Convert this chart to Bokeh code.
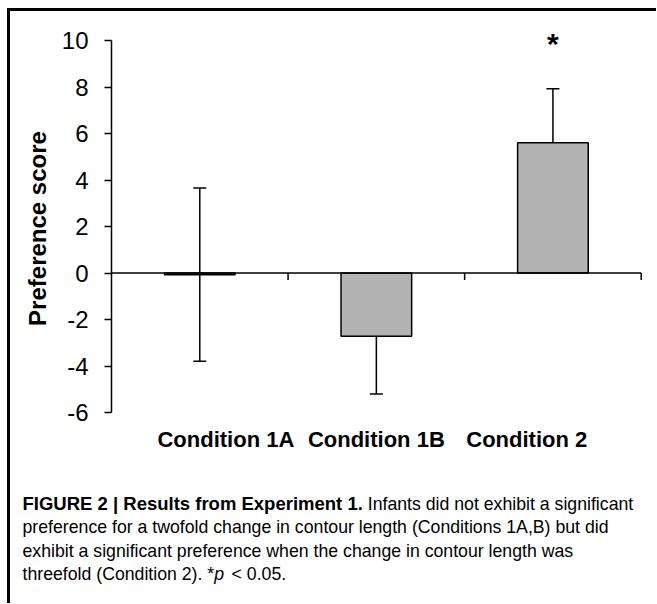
from bokeh.plotting import figure
from bokeh.layouts import column
from bokeh.models import (ColumnDataSource, Range1d, Label, Whisker, TeeHead, FixedTicker,
                          LinearAxis)
from bokeh.embed import file_html
from bokeh.resources import INLINE
import numpy as np

# ---- data ----
categories = ["Condition 1A", "Condition 1B", "Condition 2"]
means = [-0.07, -2.72, 5.6]
errors = [3.73, 2.48, 2.32]
y_ticks = [-6, -4, -2, 0, 2, 4, 6, 8, 10]
significance = ["", "", "*"]
y_label = "Preference score"
caption_bold = "FIGURE 2 | Results from Experiment 1."
caption_rest = ["Infants did not exhibit a significant",
                "preference for a twofold change in contour length (Conditions 1A,B) but did",
                "exhibit a significant preference when the change in contour length was",
                "threefold (Condition 2). *"]
caption_italic = "p"
caption_end = "< 0.05."

FONT = "Liberation Sans"

# ---- geometry (page pixels) ----
OX, OY = 10, 11             # content origin inside border
FL, AXT = 111, 40           # frame left / top of the y axis
FW = 535
PX_PER_UNIT = 23.25
TOP_PAD = 10                # room above the axis for the significance marker
BOTTOM_PAD = 14
FT = AXT - TOP_PAD
FH = int(round(PX_PER_UNIT * (y_ticks[-1] - y_ticks[0]))) + TOP_PAD + BOTTOM_PAD
CHART_H = (FT - OY) + FH + 44
TOTAL_W = 646
PAGE_BOTTOM = 603

n = len(categories)
xs = np.arange(n) + 0.5
upper = [m + e for m, e in zip(means, errors)]
lower = [m - e for m, e in zip(means, errors)]
src = ColumnDataSource(dict(x=xs, top=means, upper=upper, lower=lower))

x_end = n * 1.01
y_end = y_ticks[-1] + TOP_PAD / PX_PER_UNIT
y_start = y_ticks[0] - BOTTOM_PAD / PX_PER_UNIT
p = figure(frame_width=FW, frame_height=FH,
           min_border_left=FL - OX, min_border_right=TOTAL_W - (FL - OX) - FW,
           min_border_top=FT - OY, min_border_bottom=CHART_H - (FT - OY) - FH,
           x_range=Range1d(0, x_end), y_range=Range1d(y_start, y_end),
           x_axis_location=None, toolbar_location=None, output_backend="svg")
p.frame_align = False
p.extra_y_ranges = {"py": Range1d(FT + FH, FT)}
p.grid.visible = False
p.outline_line_color = None
p.background_fill_color = "white"
p.border_fill_color = "white"

ax = p.yaxis[0]
ax.ticker = FixedTicker(ticks=y_ticks)
ax.bounds = (y_ticks[0], y_ticks[-1])
ax.major_label_overrides = {t: str(t) for t in y_ticks}
ax.minor_tick_line_color = None
ax.major_tick_in = 0
ax.major_tick_out = 7
ax.axis_line_width = 1.5
ax.major_tick_line_width = 1.5
ax.axis_line_color = "black"
ax.major_tick_line_color = "black"
ax.major_label_text_font = FONT
ax.major_label_text_font_size = "24px"
ax.major_label_text_color = "black"
ax.major_label_standoff = 16
ax.axis_label = y_label
ax.axis_label_text_font = FONT
ax.axis_label_text_font_size = "24px"
ax.axis_label_text_font_style = "bold"
ax.axis_label_text_color = "black"
ax.axis_label_standoff = 8

# category label axis (labels set slightly closer together than the bars)
spread = 0.852
mid = n / 2
p.extra_x_ranges = {"lab": Range1d(mid - mid / spread, mid + (x_end - mid) / spread)}
lab_ax = LinearAxis(x_range_name="lab", ticker=FixedTicker(ticks=list(xs)),
                    major_label_overrides={float(x): c for x, c in zip(xs, categories)})
lab_ax.axis_line_color = None
lab_ax.major_tick_line_color = None
lab_ax.minor_tick_line_color = None
lab_ax.major_tick_out = 0
lab_ax.major_tick_in = 0
lab_ax.major_label_standoff = 0
lab_ax.major_label_text_font = FONT
lab_ax.major_label_text_font_size = "22px"
lab_ax.major_label_text_font_style = "bold"
lab_ax.major_label_text_color = "black"
p.add_layout(lab_ax, "below")

# bars
p.vbar(x="x", top="top", bottom=0, width=0.4, source=src,
       fill_color="#b3b3b3", line_color="black", line_width=1.5)

# zero axis line with category boundary ticks
p.segment(x0=[0], x1=[n], y0=[0], y1=[0], line_color="black", line_width=1.5)
bx = np.arange(1, n + 1)
p.segment(x0=bx, x1=bx, y0=[0] * n, y1=[-0.3] * n, line_color="black", line_width=1.5)

# error bars
p.add_layout(Whisker(base="x", upper="upper", lower="lower", source=src,
                     line_color="black", line_width=1.5,
                     upper_head=TeeHead(size=13, line_width=1.5, line_color="black"),
                     lower_head=TeeHead(size=13, line_width=1.5, line_color="black")))

# significance markers
for x, s in zip(xs, significance):
    if s:
        p.add_layout(Label(x=x, y=AXT + 3, y_range_name="py", text=s, text_align="center",
                           text_baseline="alphabetic", text_font=FONT, text_font_size="30px",
                           text_font_style="bold", text_color="black"))

# ---- caption figure ----
CAP_TOP = OY + CHART_H
CAP_H = PAGE_BOTTOM - CAP_TOP
c = figure(width=TOTAL_W, height=CAP_H, min_border=0,
           min_border_left=0, min_border_right=0, min_border_top=0, min_border_bottom=0,
           x_range=Range1d(OX, OX + TOTAL_W), y_range=Range1d(CAP_TOP + CAP_H, CAP_TOP),
           x_axis_location=None, y_axis_location=None, toolbar_location=None,
           output_backend="svg")
c.frame_align = False
c.grid.visible = False
c.outline_line_color = None
c.background_fill_color = "white"
c.border_fill_color = "white"

cap_x = 22
base_y = [503, 526, 550, 573]
BOLD_PX, REG_PX = 18.5, 17.7
SPACE = 0.278 * REG_PX
def cap_label(x, y, text, style="normal", size=REG_PX):
    c.add_layout(Label(x=x, y=y, text=text, text_baseline="alphabetic", text_font=FONT,
                       text_font_size=f"{size}px", text_font_style=style, text_color="black"))

cap_label(cap_x, base_y[0], caption_bold, "bold", BOLD_PX)
bold_w = 18.396 * BOLD_PX
cap_label(cap_x + bold_w + SPACE, base_y[0], caption_rest[0])
for i in range(1, 4):
    cap_label(cap_x, base_y[i], caption_rest[i])
w_last = 10.838 * REG_PX
cap_label(cap_x + w_last, base_y[3], caption_italic, "italic")
cap_label(cap_x + w_last + 0.556 * REG_PX + 1.5 * SPACE, base_y[3], caption_end)

layout = column(p, c, spacing=0)
layout.styles = {"margin-left": "7px", "margin-top": "8px",
                 "border-top": "3px solid black", "border-left": "3px solid black"}

open("out.html", "w").write(file_html(layout, INLINE))
